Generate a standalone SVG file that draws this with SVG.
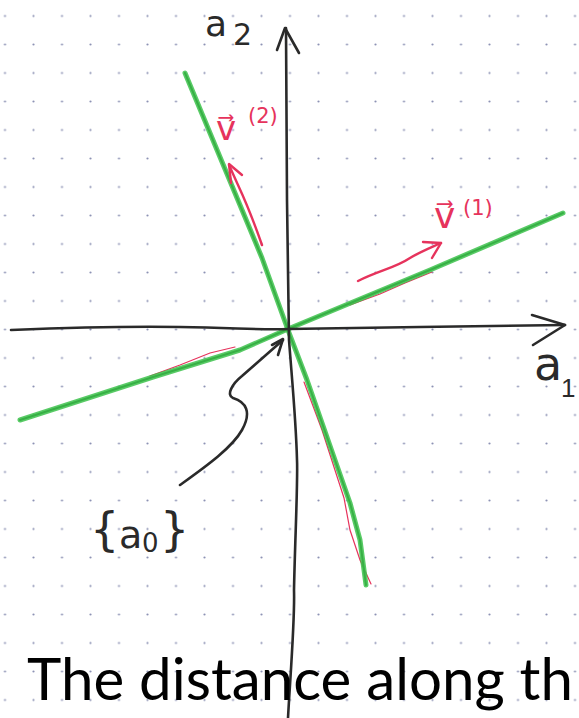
<svg xmlns="http://www.w3.org/2000/svg" width="579" height="718" viewBox="0 0 579 718">
  <defs>
    <pattern id="dots" x="-9.25" y="1.75" width="28.5" height="28.5" patternUnits="userSpaceOnUse">
      <circle cx="14.25" cy="14.25" r="1.1" fill="#8d92b4"/>
    </pattern>
  </defs>
  <style>
    .pen { fill: none; stroke: #2a2a2a; stroke-width: 2.6; stroke-linecap: round; stroke-linejoin: round; }
    .pencore { fill: none; stroke: #1f4a24; stroke-width: 2; stroke-linecap: round; stroke-linejoin: round; }
    .green { fill: none; stroke: #3cc24b; stroke-width: 5; stroke-linecap: round; stroke-linejoin: round; opacity: 0.85; }
    .red { fill: none; stroke: #e6335c; stroke-width: 2.4; stroke-linecap: round; stroke-linejoin: round; }
    .redthin { fill: none; stroke: #e6335c; stroke-width: 1.2; stroke-linecap: round; }
    .hand { font-family: "DejaVu Sans", "Liberation Sans", sans-serif; fill: #2a2a2a; }
    .handnarrow { font-family: "Liberation Sans", sans-serif; fill: #2a2a2a; }
    .handred { font-family: "DejaVu Sans", "Liberation Sans", sans-serif; fill: #e6335c; }
    .caption { font-family: Lato, "Open Sans", "Liberation Sans", sans-serif; fill: #000; }
  </style>
  <rect width="579" height="718" fill="#ffffff"/>
  <rect width="579" height="718" fill="url(#dots)"/>

  <g id="green-lines">
    <polyline class="redthin" points="150,376 180,365 210,353 235,347"/>
    <polyline class="redthin" points="350,305 380,294 405,283 432,272"/>
    <polyline class="redthin" points="304,382 322,430 344,498 350,530 360,560 371,584"/>
    <polyline class="pencore" points="185,73 262,258 288,330 307,380 350,503 360,540 366,585"/>
    <polyline class="green" points="185,73 262,258 288,330 307,380 350,503 360,540 366,585"/>
    <polyline class="pencore" points="20,420 153,377 240,350 288,329 430,270 563,213"/>
    <polyline class="green" points="20,420 153,377 240,350 288,329 430,270 563,213"/>
  </g>

  <g id="axes">
    <path class="pen" d="M288,718 C290,680 295,620 294,590 C295,540 298,480 297,460 C296,420 292,380 289,340 L287,200 L286,28"/>
    <polyline class="pen" points="277,50 285,28 299,53"/>
    <path class="pen" d="M11,330 C60,328 120,326 180,327 S260,330 288,329 L420,327 L565,325"/>
    <polyline class="pen" points="532,315 565,325 533,345"/>
  </g>

  <g id="vectors">
    <path class="red" d="M358,281 C380,270 395,268 410,258 C420,252 430,248 441,243"/>
    <polyline class="red" points="423,242 441,243 432,258"/>
    <path class="red" d="M262,245 C255,225 245,200 238,185 L229,165"/>
    <polyline class="red" points="242,175 229,164 231,183"/>
  </g>

  <g id="pointer">
    <path class="pen" d="M180,485 C205,467 232,448 242,430 C252,412 246,402 233,398 C226,395 232,384 242,376 L283,340"/>
    <polyline class="pen" points="272,345 283,339 278,355"/>
  </g>

  <g id="labels">
    <text class="hand" x="205" y="36" font-size="36">a</text>
    <text class="hand" x="233" y="45" font-size="30">2</text>
    <text class="hand" x="534" y="380" font-size="46">a</text>
    <text class="handnarrow" x="561" y="397" font-size="26">1</text>
    <text class="hand" x="90" y="545" font-size="46">{</text>
    <text class="hand" x="119" y="548" font-size="38">a</text>
    <text class="hand" x="142" y="552" font-size="26">0</text>
    <text class="hand" x="160" y="545" font-size="46">}</text>
    <text class="handred" x="434" y="228" font-size="36">v⃗<tspan x="463" y="215" font-size="21">(1)</tspan></text>
    <text class="handred" x="216" y="140" font-size="34">v⃗<tspan x="248" y="123" font-size="21">(2)</tspan></text>
  </g>

  <g id="caption">
    <text class="caption" x="27" y="700" font-size="58" textLength="546" lengthAdjust="spacingAndGlyphs">The distance along th</text>
  </g>
</svg>
